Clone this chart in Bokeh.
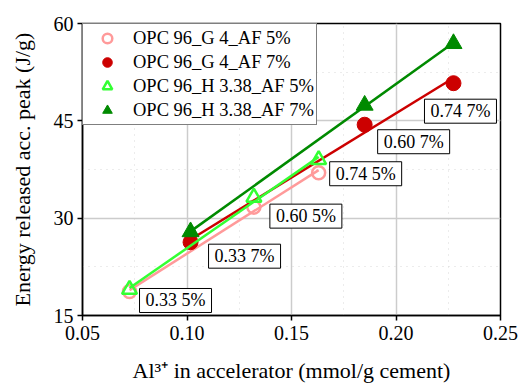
import numpy as np
from bokeh.plotting import figure
from bokeh.models import (FixedTicker, NumeralTickFormatter, Range1d, Legend,
                          LegendItem, Label)
from bokeh.embed import file_html
from bokeh.resources import INLINE

# ---- data ----
x_af5 = [0.0725, 0.132, 0.163]
x_af7 = [0.1017, 0.185, 0.2275]
y_g5 = [18.7, 31.7, 37.0]
y_g7 = [26.3, 44.4, 50.8]
y_h5 = [19.0, 33.2, 39.0]
y_h7 = [27.9, 47.4, 56.9]
series_names = ["OPC 96_G 4_AF 5%", "OPC 96_G 4_AF 7%",
                "OPC 96_H 3.38_AF 5%", "OPC 96_H 3.38_AF 7%"]
point_labels_5 = ["0.33 5%", "0.60 5%", "0.74 5%"]
point_labels_7 = ["0.33 7%", "0.60 7%", "0.74 7%"]
x_ticks = [0.05, 0.10, 0.15, 0.20, 0.25]
y_ticks = [15, 30, 45, 60]

FONT = "Liberation Serif"

p = figure(width=522, height=385, output_backend="svg", toolbar_location=None,
           x_range=Range1d(0.05, 0.25), y_range=Range1d(15, 60),
           min_border_left=82, min_border_right=22, min_border_top=23,
           min_border_bottom=68)
p.background_fill_color = "white"
p.border_fill_color = "white"
p.outline_line_color = "black"
p.outline_line_width = 1.5
p.outline_line_alpha = 1

p.xaxis.ticker = FixedTicker(ticks=x_ticks, minor_ticks=[0.075, 0.125, 0.175, 0.225])
p.yaxis.ticker = FixedTicker(ticks=y_ticks, minor_ticks=[22.5, 37.5, 52.5])
p.xaxis.formatter = NumeralTickFormatter(format="0.00")
for ax in (p.xaxis, p.yaxis):
    ax.axis_line_color = "black"
    ax.axis_line_width = 1.5
    ax.major_tick_line_color = "black"
    ax.major_tick_line_width = 1.5
    ax.major_tick_out = 5
    ax.major_tick_in = 0
    ax.minor_tick_line_color = None
    ax.major_label_text_font = FONT
    ax.major_label_text_font_size = "20px"
    ax.major_label_text_color = "black"
    ax.axis_label_text_font = FONT
    ax.axis_label_text_font_size = "22px"
    ax.axis_label_text_font_style = "normal"
    ax.axis_label_text_color = "black"
p.xaxis.major_label_standoff = 5
p.yaxis.major_label_standoff = 4
p.xaxis.axis_label = "Al\u00b3\u207a in accelerator (mmol/g cement)"
p.yaxis.axis_label = "Energy released acc. peak (J/g)"
p.xaxis.axis_label_standoff = 15
p.yaxis.axis_label_standoff = 16

p.grid.grid_line_color = "#cccccc"
p.grid.grid_line_width = 1.5
p.grid.minor_grid_line_color = "#d8d8d8"
p.grid.minor_grid_line_dash = "1 5"
p.grid.minor_grid_line_width = 1

colors = ["#ff9a9a", "#cc0000", "#33ff33", "#008a00"]
xs = [x_af5, x_af7, x_af5, x_af7]
ys = [y_g5, y_g7, y_h5, y_h7]
markers = ["circle", "circle", "triangle", "triangle"]
filled = [False, True, False, True]

items = []
for name, c, x, y, m, f in zip(series_names, colors, xs, ys, markers, filled):
    k, b = np.polyfit(x, y, 1)
    xl = [min(x), max(x)]
    p.line(xl, [k * v + b for v in xl], line_color=c, line_width=2.5)
    if f:
        r = p.scatter(x, y, marker=m, size=15 if m == "circle" else 17,
                      fill_color=c, line_color=c, line_width=1)
    else:
        r = p.scatter(x, y, marker=m, size=13 if m == "circle" else 15,
                      fill_color=None, line_color=c, line_width=2.5)
    items.append(LegendItem(label=name, renderers=[r]))

legend = Legend(items=items, location="top_left", margin=0, padding=2,
                border_line_color="black", border_line_width=1.5,
                background_fill_color="white", background_fill_alpha=1,
                label_text_font=FONT, label_text_font_size="18.5px",
                label_text_color="black",
                glyph_width=44, glyph_height=24, label_height=24,
                spacing=0, label_standoff=4)
p.add_layout(legend, "center")

# point labels (anchored to the G-series points)
offs5 = [(10, 3), (16, 3), (11, 11)]
offs7 = [(18, -2), (13, -5), (-29, -16)]
for txts, xv_list, yv_list, offs in ((point_labels_5, x_af5, y_g5, offs5),
                                     (point_labels_7, x_af7, y_g7, offs7)):
    for txt, xv, yv, (dx, dy) in zip(txts, xv_list, yv_list, offs):
        p.add_layout(Label(x=xv, y=yv, text=txt, x_offset=dx, y_offset=dy,
                           text_align="left", text_baseline="top",
                           text_font=FONT, text_font_size="18px",
                           text_color="black",
                           background_fill_color="white",
                           border_line_color="black",
                           border_line_width=1, padding=(6, 2)))

open("out.html", "w").write(file_html(p, INLINE))
